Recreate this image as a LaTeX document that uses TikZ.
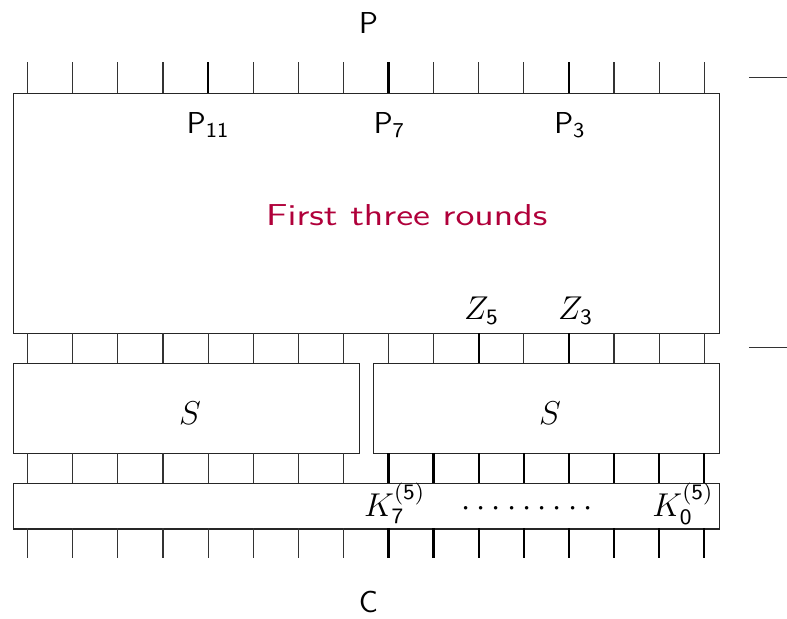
\documentclass[tikz,border=0pt]{standalone}
\usepackage{fontspec}
\usepackage{graphicx}
\definecolor{alertred}{RGB}{176,0,58}
\newcommand\onedot{{\cdot}\kern2.23pt}
\begin{document}
\begin{tikzpicture}[x=0.3636pt,y=-0.3636pt,
  box/.style={draw=black!85, line width=0.4pt, inner sep=0pt, anchor=north west},
  thinwire/.style={line width=0.4pt, draw=black!80},
  thickwire/.style={line width=0.8pt, draw=black},
  lbl/.style={font=\fontsize{11}{13}\selectfont\sffamily, inner sep=0pt},
  mlbl/.style={font=\fontsize{12}{14}\selectfont\sffamily, inner sep=0pt},
  redlbl/.style={font=\fontsize{11}{13}\selectfont\sffamily, text=alertred, inner sep=0pt},
]
\useasboundingbox (0,0) rectangle (787,618);

% boxes
\node[box, minimum width=256.9pt, minimum height=87.3pt] (rounds) at (12.7,93) {};
\node[box, minimum width=125.8pt, minimum height=32.8pt] (sleft) at (12.7,363) {};
\node[box, minimum width=125.8pt, minimum height=32.8pt] (sright) at (373.3,363) {};
\node[box, minimum width=256.9pt, minimum height=16.4pt] (key) at (12.7,483.3) {};

% wires
\foreach \i in {0,...,15}{
  \pgfmathsetmacro\xx{27.7+45.1*\i}
  % top
  \ifnum\i=4 \def\st{thickwire}\else\ifnum\i=8 \def\st{thickwire}\else\ifnum\i=12 \def\st{thickwire}\else\def\st{thinwire}\fi\fi\fi
  \draw[\st] (\xx,62) -- (\xx,93);
  % middle
  \ifnum\i=10 \def\st{thickwire}\else\ifnum\i=12 \def\st{thickwire}\else\def\st{thinwire}\fi\fi
  \draw[\st] (\xx,333) -- (\xx,363);
  % below S and bottom
  \ifnum\i>7 \def\st{thickwire}\else\def\st{thinwire}\fi
  \draw[\st] (\xx,453.3) -- (\xx,483.3);
  \draw[\st] (\xx,528.3) -- (\xx,558.3);
}

% side marks
\coordinate (m1a) at (749,77.7);
\coordinate (m1b) at (787,77.7);
\coordinate (m2a) at (749,347.7);
\coordinate (m2b) at (787,347.7);
\draw[thinwire] (m1a) -- (m1b);
\draw[thinwire] (m2a) -- (m2b);

% labels
\node[lbl, anchor=base] (ptxt) at (368.5,33) {P};
\node[lbl, anchor=base] (ctxt) at (368.3,612) {C};
\node[lbl, anchor=base] (p11) at (208.3,133.3) {P$_{\mathsf{11}}$};
\node[lbl, anchor=base] (p7) at (389.5,133.3) {P$_{\mathsf{7}}$};
\node[lbl, anchor=base] (p3) at (570,133.3) {P$_{\mathsf{3}}$};
\node[redlbl, anchor=base] (title) at (406.7,225) {\scalebox{1.28}[1]{First three rounds}};
\node[mlbl, anchor=base] (z5) at (481.7,319.3) {$Z_{\mathsf{5}}$};
\node[mlbl, anchor=base] (z3) at (575.7,319.3) {$Z_{\mathsf{3}}$};
\node[mlbl, anchor=base] (s1) at (190,424) {$S$};
\node[mlbl, anchor=base] (s2) at (550,424) {$S$};
\node[mlbl, anchor=base] (k7) at (394.7,516.3) {$K_{\mathsf{7}}^{\mathsf{(5)}}$};
\node[mlbl, anchor=base] (k0) at (683,516.3) {$K_{\mathsf{0}}^{\mathsf{(5)}}$};
\node[mlbl, anchor=base] (dots) at (527,516.3) {$\onedot\onedot\onedot\onedot\onedot\onedot\onedot\onedot{\cdot}$};
\end{tikzpicture}
\end{document}
